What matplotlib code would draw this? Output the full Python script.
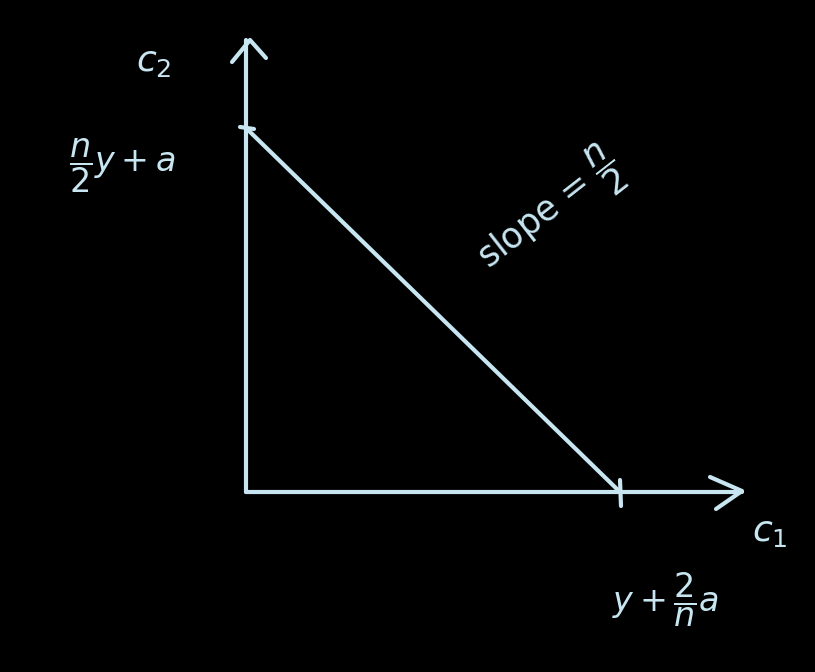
import matplotlib
matplotlib.use("Agg")
import matplotlib.pyplot as plt

# Data (units: origin at axes corner)
x_intercept = 3.74   # c1 intercept: y + (2/n) a
y_intercept = 3.64   # c2 intercept: (n/2) y + a
x_axis_end = 4.96
y_axis_end = 4.52
axis_labels = ["$c_1$", "$c_2$"]
intercept_labels = [r"$y + \dfrac{2}{n}a$", r"$\dfrac{n}{2}y + a$"]
slope_label = r"slope = $\dfrac{n}{2}$"

col = "#c8e6f2"
lw = 3.0

fig = plt.figure(figsize=(8.15, 6.72), dpi=100, facecolor="black")
ax = fig.add_axes([0, 0, 1, 1], facecolor="black")
ax.set_xlim(-2.46, 5.69)
ax.set_ylim(-1.80, 4.92)
ax.axis("off")

kw = dict(color=col, lw=lw, solid_capstyle="round", solid_joinstyle="round")
# axes
ax.plot([0, x_axis_end], [0, 0], **kw)
ax.plot([0, 0], [0, y_axis_end], **kw)
# arrowheads (open chevrons)
ax.plot([x_axis_end - 0.32, x_axis_end, x_axis_end - 0.26], [0.15, 0.01, -0.17], **kw)
ax.plot([-0.14, 0.04, 0.20], [y_axis_end - 0.22, y_axis_end, y_axis_end - 0.18], **kw)
# budget line
ax.plot([0, x_intercept], [y_intercept, 0], **kw)
# tick marks
ax.plot([-0.06, 0.08], [y_intercept + 0.01, y_intercept - 0.01], **kw)
ax.plot([x_intercept, x_intercept + 0.01], [0.12, -0.14], **kw)

# labels
ax.text(-0.92, 4.30, axis_labels[1], color=col, fontsize=26, ha="center", va="center")
ax.text(5.24, -0.40, axis_labels[0], color=col, fontsize=26, ha="center", va="center")
ax.text(-1.24, 3.26, intercept_labels[1], color=col, fontsize=24, ha="center", va="center")
ax.text(4.20, -1.08, intercept_labels[0], color=col, fontsize=24, ha="center", va="center")
ax.text(3.04, 2.80, slope_label, color=col, fontsize=25, ha="center", va="center",
        rotation=38, rotation_mode="anchor")

fig.savefig("out.png", dpi=100, facecolor="black")
